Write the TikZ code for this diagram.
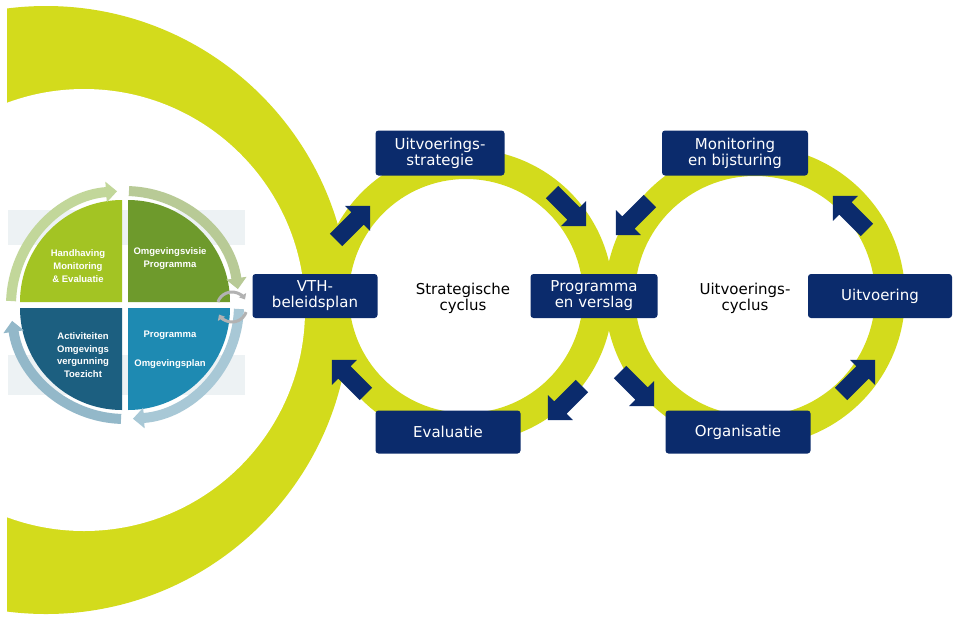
\documentclass[tikz,border=0pt]{standalone}
\usepackage{fontspec}
\setmainfont{DejaVu Sans}
\newfontfamily\smallsans{Liberation Sans}
\usetikzlibrary{shapes.arrows,arrows.meta}
\definecolor{limering}{HTML}{D3DB1C}
\definecolor{navy}{HTML}{0B2B6C}
\definecolor{qlime}{HTML}{A3C423}
\definecolor{qolive}{HTML}{6E9A2C}
\definecolor{qteal}{HTML}{1C5F80}
\definecolor{qblue}{HTML}{1E8AB2}
\definecolor{arcgreen}{HTML}{C2D79A}
\definecolor{arcblue}{HTML}{A8C8D6}
\definecolor{band}{HTML}{EDF2F4}
\tikzset{
  box/.style={fill=navy, rounded corners=3pt, text=white, align=center,
    font=\fontsize{15}{16}\selectfont, inner sep=2pt},
  cyc/.style={align=center, font=\fontsize{15}{16}\selectfont},
  blk/.style={single arrow, fill=navy, minimum height=48, inner sep=0pt,
    text height=17pt, text depth=0pt, text width=0pt,
    single arrow head extend=9pt, single arrow tip angle=90},
  qtext/.style={text=white, align=center, font=\smallsans\bfseries\fontsize{9.5}{13}\selectfont},
}
\begin{document}
\begin{tikzpicture}[x=1pt,y=-1pt]
\useasboundingbox (0,0) rectangle (960,625);
\begin{scope}
\clip (0,0) rectangle (960,625);
% big crescent
\fill[limering] (46,310) circle[radius=304];
\fill[white] (84,310) circle[radius=221];
\fill[white] (0,0) rectangle (7,625);
% bands
\fill[band] (8,210) rectangle (245,245);
\fill[band] (8,355) rectangle (245,395);
\end{scope}
% the two cycles
\fill[limering, even odd rule] (466,296) circle[radius=147] (466,296) circle[radius=117];
\fill[limering, even odd rule] (755,296) circle[radius=150] (755,296) circle[radius=120];
% left quadrant circle
\coordinate (c) at (125,305);
\fill[qlime] (122,302) -- +(180:102) arc[start angle=180,end angle=270,radius=102] -- cycle;
\fill[qolive] (128,302) -- +(270:102) arc[start angle=270,end angle=360,radius=102] -- cycle;
\fill[qblue] (128,308) -- +(0:102) arc[start angle=0,end angle=90,radius=102] -- cycle;
\fill[qteal] (122,308) -- +(90:102) arc[start angle=90,end angle=180,radius=102] -- cycle;
\draw[arcgreen, line width=10, -{Triangle[length=11pt,width=20pt]}] (c) ++(182:114) arc[start angle=182,end angle=266,radius=114];
\draw[arcgreen!85!gray, line width=10, -{Triangle[length=11pt,width=20pt]}] (c) ++(272:114) arc[start angle=272,end angle=352,radius=114];
\draw[arcblue, line width=10, -{Triangle[length=11pt,width=20pt]}] (c) ++(2:114) arc[start angle=2,end angle=86,radius=114];
\draw[arcblue!85!qteal, line width=10, -{Triangle[length=11pt,width=20pt]}] (c) ++(92:114) arc[start angle=92,end angle=172,radius=114];
\draw[gray!60, line width=3, -{Triangle[length=5pt,width=8pt]}] (232,307) ++(200:15) arc[start angle=200,end angle=330,radius=15];
\draw[gray!60, line width=3, -{Triangle[length=5pt,width=8pt]}] (232,307) ++(20:15) arc[start angle=20,end angle=150,radius=15];
\node[qtext] (handhaving) at (78,266) {Handhaving\\Monitoring\\\& Evaluatie};
\node[qtext] (visie) at (170,259) {Omgevingsvisie\\Programma};
\node[qtext, font=\smallsans\bfseries\fontsize{9.5}{12.5}\selectfont] (activiteiten) at (83,355) {Activiteiten\\Omgevings\\vergunning\\Toezicht};
\node[qtext, font=\smallsans\bfseries\fontsize{9.5}{29}\selectfont] (plan) at (170,350) {Programma\\Omgevingsplan};
% boxes
\node[box, minimum width=129, minimum height=45] (strategie) at (440,153) {Uitvoerings-\\strategie};
\node[box, minimum width=146, minimum height=45] (monitoring) at (735,153) {Monitoring\\en bijsturing};
\node[box, minimum width=125, minimum height=44] (vth) at (315,296) {VTH-\\beleidsplan};
\node[box, minimum width=127, minimum height=44] (programma) at (594,296) {Programma\\en verslag};
\node[box, minimum width=144, minimum height=44] (uitvoering) at (880,296) {Uitvoering};
\node[box, minimum width=145, minimum height=43] (evaluatie) at (448,432) {Evaluatie};
\node[box, minimum width=145, minimum height=43] (organisatie) at (738,432) {Organisatie};
\node[cyc] (strategisch) at (463,298) {Strategische\\cyclus};
\node[cyc] (uitvcyclus) at (745,298) {Uitvoerings-\\cyclus};
% block arrows
\node[blk, rotate=45] (a1) at (350,226) {};
\node[blk, rotate=-45] (a2) at (566,206) {};
\node[blk, rotate=-135] (a3) at (636,215) {};
\node[blk, rotate=135] (a4) at (853,216) {};
\node[blk, rotate=135] (a5) at (352,380) {};
\node[blk, rotate=-135] (a6) at (568,400) {};
\node[blk, rotate=-45] (a7) at (634,386) {};
\node[blk, rotate=45] (a8) at (855,380) {};
\end{tikzpicture}
\end{document}
